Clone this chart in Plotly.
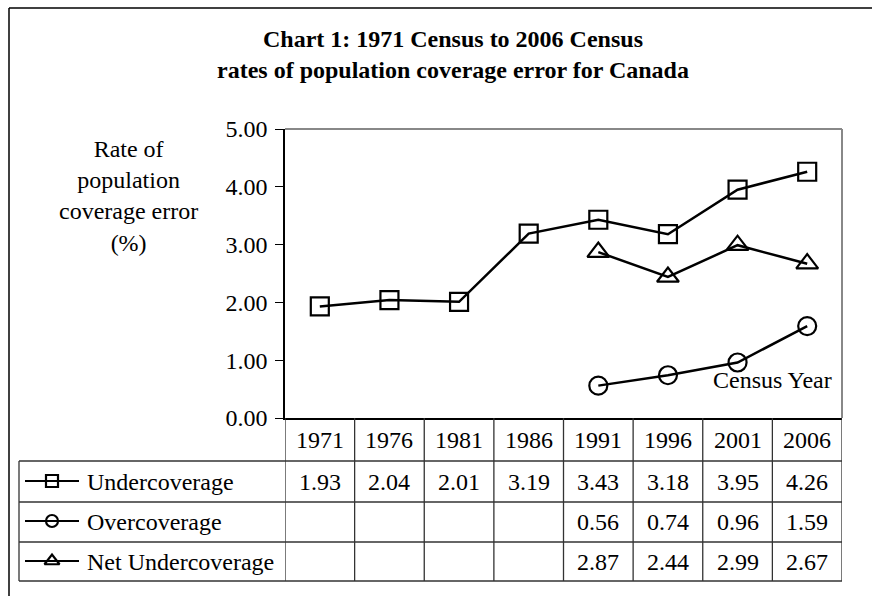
import plotly.graph_objects as go

# ---- data ----
years = ["1971", "1976", "1981", "1986", "1991", "1996", "2001", "2006"]
undercoverage = [1.93, 2.04, 2.01, 3.19, 3.43, 3.18, 3.95, 4.26]
overcoverage = [None, None, None, None, 0.56, 0.74, 0.96, 1.59]
net_undercoverage = [None, None, None, None, 2.87, 2.44, 2.99, 2.67]
series_names = ["Undercoverage", "Overcoverage", "Net Undercoverage"]
y_ticks = [0, 1, 2, 3, 4, 5]

W, H = 872, 596
FONT = "Liberation Serif"
FS = 24


def px(x):
    return x / W


def py(y):
    return 1 - y / H


series = [undercoverage, overcoverage, net_undercoverage]
symbols = ["square-open", "circle-open", "triangle-up-open"]
msizes = [18, 18, 19]
leg_sizes = [12, 12, 13]

fig = go.Figure()
xs = list(range(len(years)))
for vals, sym, ms, name in zip(series, symbols, msizes, series_names):
    fig.add_trace(go.Scatter(
        x=xs, y=vals, mode="lines+markers", name=name,
        line=dict(color="black", width=2.5),
        marker=dict(symbol=sym, size=ms, color="black", line=dict(width=2.2, color="black")),
        connectgaps=False, showlegend=False, cliponaxis=False,
    ))

# legend glyphs in the table's first column
rows = [0, 1, 2]
for r, sym, ms in zip(rows, symbols, leg_sizes):
    fig.add_trace(go.Scatter(
        x=[0, 1], y=[r, r], mode="lines", xaxis="x2", yaxis="y2",
        line=dict(color="black", width=2), showlegend=False, hoverinfo="skip",
    ))
    fig.add_trace(go.Scatter(
        x=[0.5], y=[r], mode="markers", xaxis="x2", yaxis="y2",
        marker=dict(symbol=sym, size=ms, color="black", line=dict(width=2.2, color="black")),
        showlegend=False, hoverinfo="skip", cliponaxis=False,
    ))

shapes = []
tbl_col = "#333333"
# plot area top/right borders (gray)
shapes.append(dict(type="line", xref="x domain", yref="y domain", x0=0, x1=1, y0=1, y1=1,
                   line=dict(color="#888888", width=2)))
shapes.append(dict(type="line", xref="x domain", yref="y domain", x0=1, x1=1, y0=0, y1=1,
                   line=dict(color="#888888", width=2)))
# table horizontal lines
for yline in [461, 502, 542, 581]:
    shapes.append(dict(type="line", xref="paper", yref="paper", x0=px(19), x1=px(842),
                       y0=py(yline), y1=py(yline), line=dict(color=tbl_col, width=1.3)))
# table vertical lines at category boundaries
for i in range(len(years) + 1):
    shapes.append(dict(type="line", xref="x", yref="paper", x0=i - 0.5, x1=i - 0.5,
                       y0=py(418), y1=py(581), line=dict(color=tbl_col, width=1.3)))
# legend column left border
shapes.append(dict(type="line", xref="paper", yref="paper", x0=px(19), x1=px(19),
                   y0=py(461), y1=py(581), line=dict(color=tbl_col, width=1.3)))
# outer chart border (top and left)
shapes.append(dict(type="line", xref="paper", yref="paper", x0=px(9), x1=1.0,
                   y0=py(8), y1=py(8), line=dict(color="black", width=1.5)))
shapes.append(dict(type="line", xref="paper", yref="paper", x0=px(9), x1=px(9),
                   y0=py(8), y1=0, line=dict(color="black", width=1.5)))

ann = []
tf = dict(family=FONT, size=FS, color="black")
# year header row
for i, yr in enumerate(years):
    ann.append(dict(x=i, xref="x", y=py(440), yref="paper", text=yr, showarrow=False,
                    font=tf, xanchor="center", yanchor="middle"))
# values rows
row_centers = [482, 522, 562]
for vals, yc in zip(series, row_centers):
    for i, v in enumerate(vals):
        if v is not None:
            ann.append(dict(x=i, xref="x", y=py(yc), yref="paper", text=f"{v:.2f}",
                            showarrow=False, font=tf, xanchor="center", yanchor="middle"))
# row labels
for name, yc in zip(series_names, row_centers):
    ann.append(dict(x=px(85), xref="paper", y=py(yc), yref="paper", text=name,
                    showarrow=False, font=tf, xanchor="left", yanchor="middle"))
# y-axis title
ann.append(dict(x=px(128), xref="paper", y=py(196), yref="paper",
                text="Rate of<br>population<br>coverage error<br>(%)", showarrow=False,
                font=tf, xanchor="center", yanchor="middle", align="center"))
# Census Year
ann.append(dict(x=px(772), xref="paper", y=py(380), yref="paper", text="Census Year",
                showarrow=False, font=tf, xanchor="center", yanchor="middle"))
# title
ann.append(dict(x=px(453), xref="paper", y=py(54), yref="paper",
                text="<b>Chart 1: 1971 Census to 2006 Census<br>rates of population coverage error for Canada</b>",
                showarrow=False, font=tf, xanchor="center", yanchor="middle", align="center"))

fig.update_layout(
    width=W, height=H, margin=dict(l=0, r=0, t=0, b=0, pad=0, autoexpand=False),
    paper_bgcolor="white", plot_bgcolor="white",
    font=dict(family=FONT, size=FS, color="black"),
    showlegend=False,
    xaxis=dict(domain=[px(285), px(842)], range=[-0.5, len(years) - 0.5],
               showticklabels=False, ticks="", showgrid=False, zeroline=False,
               showline=True, linecolor="black", linewidth=1.5, fixedrange=True,
               automargin=False),
    yaxis=dict(domain=[py(418), py(129)], range=[0, 5], tickvals=y_ticks,
               ticktext=[f"{t:.2f}" for t in y_ticks], ticks="outside", ticklen=8,
               tickwidth=1.3, tickcolor="black", showgrid=False, zeroline=False,
               showline=True, linecolor="black", linewidth=1.5,
               tickfont=dict(family=FONT, size=FS, color="black"),
               ticklabelstandoff=3, fixedrange=True, automargin=False),
    xaxis2=dict(domain=[px(25), px(79)], range=[0, 1], visible=False, fixedrange=True,
                automargin=False),
    yaxis2=dict(domain=[py(581), py(461)], range=[2.5, -0.5], visible=False, fixedrange=True,
                automargin=False),
    shapes=shapes, annotations=ann,
)

fig.write_html(
    "out.html",
    config={"displayModeBar": False},
    post_script="document.body.style.margin='0';document.body.style.overflow='hidden';",
)
